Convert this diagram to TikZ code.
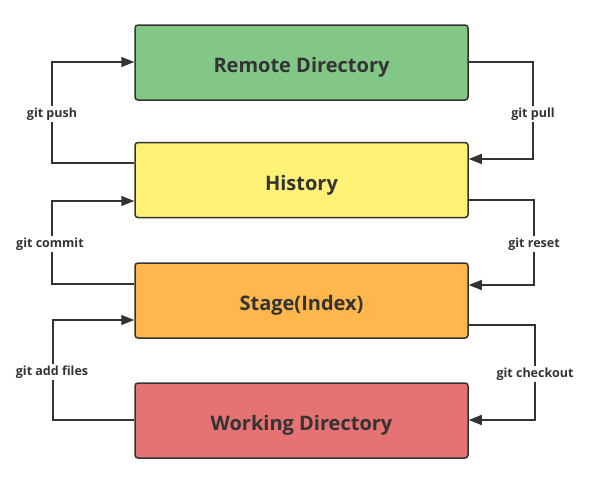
\documentclass[tikz,border=0pt]{standalone}
\usepackage{fontspec}
\setmainfont{Open Sans}
\usetikzlibrary{arrows.meta}
\definecolor{txt}{HTML}{333333}
\definecolor{cgreen}{HTML}{82C785}
\definecolor{cyellow}{HTML}{FFF176}
\definecolor{corange}{HTML}{FFB74D}
\definecolor{cred}{HTML}{E57373}
\tikzset{
  box/.style={draw=txt, line width=1.5pt, rounded corners=3pt, minimum width=333pt, minimum height=75pt, inner sep=0pt, text=txt, font=\fontsize{20}{24}\selectfont\bfseries},
  conn/.style={draw=txt, line width=1.5pt, -{Triangle[length=13pt,width=10pt]}},
  lbl/.style={fill=white, text=txt, inner sep=1.5pt, font=\fontsize{12.5}{15}\selectfont\bfseries}
}
\newcommand{\lowtxt}[1]{\raisebox{-10pt}[0pt][0pt]{#1}}
\begin{document}
\begin{tikzpicture}[x=1pt,y=-1pt]
\useasboundingbox (0,0) rectangle (590,482);
\node[box, fill=cgreen] (remote) at (301.5,62.5) {\lowtxt{Remote Directory}};
\node[box, fill=cyellow] (history) at (301.5,180) {\lowtxt{History}};
\node[box, fill=corange] (stage) at (301.5,300.5) {\lowtxt{Stage(Index)}};
\node[box, fill=cred] (work) at (301.5,420.5) {\lowtxt{Working Directory}};
% left side
\coordinate (pushA) at (52,163);
\coordinate (pushB) at (52,62);
\draw[conn] (history.west |- pushA) -- (pushA) -- (pushB) -- (remote.west |- pushB);
\node[lbl] at (52,114) {git push};
\coordinate (comA) at (52,284);
\coordinate (comB) at (52,201);
\draw[conn] (stage.west |- comA) -- (comA) -- (comB) -- (history.west |- comB);
\node[lbl] at (50,244) {git commit};
\coordinate (addA) at (53,420);
\coordinate (addB) at (53,320);
\draw[conn] (work.west |- addA) -- (addA) -- (addB) -- (stage.west |- addB);
\node[lbl] at (52,372) {git add files};
% right side
\coordinate (pullA) at (533,62);
\coordinate (pullB) at (533,159);
\draw[conn] (remote.east |- pullA) -- (pullA) -- (pullB) -- (history.east |- pullB);
\node[lbl] at (533,114) {git pull};
\coordinate (resA) at (534,200);
\coordinate (resB) at (534,285);
\draw[conn] (history.east |- resA) -- (resA) -- (resB) -- (stage.east |- resB);
\node[lbl] at (534,244) {git reset};
\coordinate (coA) at (535,325);
\coordinate (coB) at (535,420);
\draw[conn] (stage.east |- coA) -- (coA) -- (coB) -- (work.east |- coB);
\node[lbl] at (535,374) {git checkout};
\end{tikzpicture}
\end{document}
